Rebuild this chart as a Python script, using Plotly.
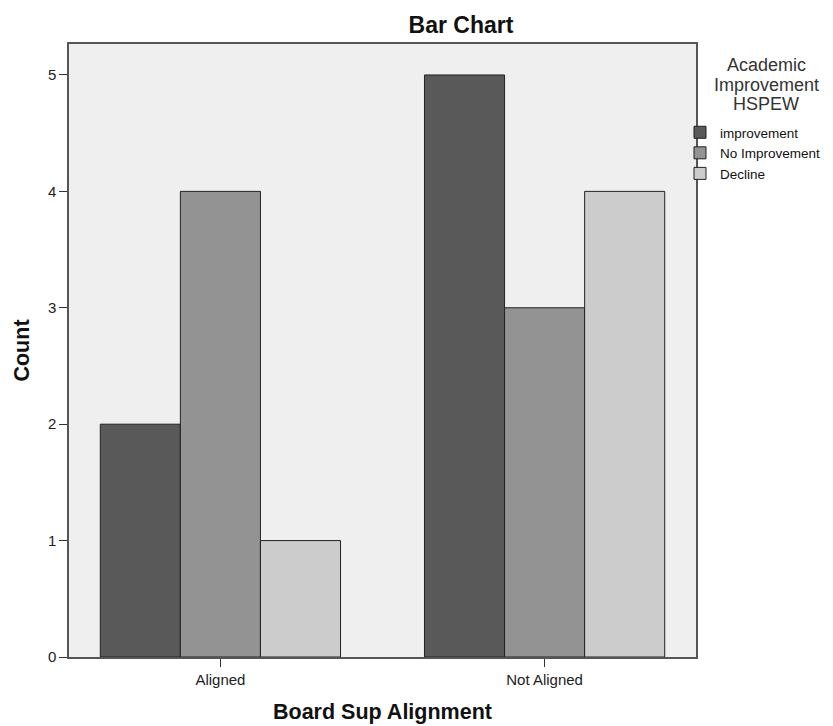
import plotly.graph_objects as go

categories = ["Aligned", "Not Aligned"]
series_names = ["improvement", "No Improvement", "Decline"]
improvement = [2, 5]
no_improvement = [4, 3]
decline = [1, 4]
colors = ["#595959", "#939393", "#cccccc"]
legend_title_lines = ["Academic", "Improvement", "HSPEW"]

FONT = "Liberation Sans, Arial, sans-serif"

fig = go.Figure()
for i, (name, vals, col) in enumerate(zip(series_names, [improvement, no_improvement, decline], colors)):
    fig.add_trace(go.Bar(
        x=categories, y=vals, name=name, legendgroup=f"g{i}",
        marker=dict(color=col, line=dict(color="#222222", width=1)),
    ))

# plot area in screen px: x 69..696, y 44..657 (page body has an 8px offset)
def px_x(sx):
    return (sx - 69) / 627.0

def px_y(sy):
    return 1 - (sy - 44) / 613.0

annotations = []
for line, sy in zip(legend_title_lines, [65, 85, 104]):
    annotations.append(dict(text=line, xref="paper", yref="paper", x=px_x(766), y=px_y(sy),
                            xanchor="center", yanchor="middle", showarrow=False,
                            font=dict(size=18, color="#333333", family=FONT)))

fig.update_layout(
    width=825, height=718,
    margin=dict(l=61, r=137, t=36, b=69, autoexpand=False),
    paper_bgcolor="white", plot_bgcolor="#efefef",
    barmode="group", bargap=0.259, bargroupgap=0,
    font=dict(family=FONT, color="#222222", size=15),
    title=dict(text="<b>Bar Chart</b>", xref="paper", x=px_x(461), xanchor="center",
               yref="container", y=1 - (25 - 8) / 718.0, yanchor="middle",
               font=dict(size=23, color="#111111")),
    legend=dict(x=px_x(680), xanchor="left", y=px_y(117), yanchor="top",
                font=dict(size=13.5, color="#111111"), tracegroupgap=0,
                bgcolor="rgba(0,0,0,0)", itemwidth=30),
    showlegend=True,
    annotations=annotations,
)
fig.update_xaxes(
    range=[-0.467, 1.467], showline=True, linecolor="#555555", linewidth=1.5, mirror=True,
    ticks="outside", ticklen=8, tickcolor="#333333", showgrid=False,
    title=dict(text="<b>Board Sup Alignment</b>", font=dict(size=21.5, color="#111111"), standoff=17),
    tickfont=dict(size=15, color="#222222"),
)
fig.update_yaxes(
    range=[0, 5.266], showline=True, linecolor="#555555", linewidth=1.5, mirror=True,
    ticks="outside", ticklen=8, tickcolor="#333333", showgrid=False, dtick=1, zeroline=False,
    title=dict(text="<b>Count</b>", font=dict(size=21.5, color="#111111"), standoff=12),
    tickfont=dict(size=15, color="#222222"),
)
fig.write_html("out.html")
